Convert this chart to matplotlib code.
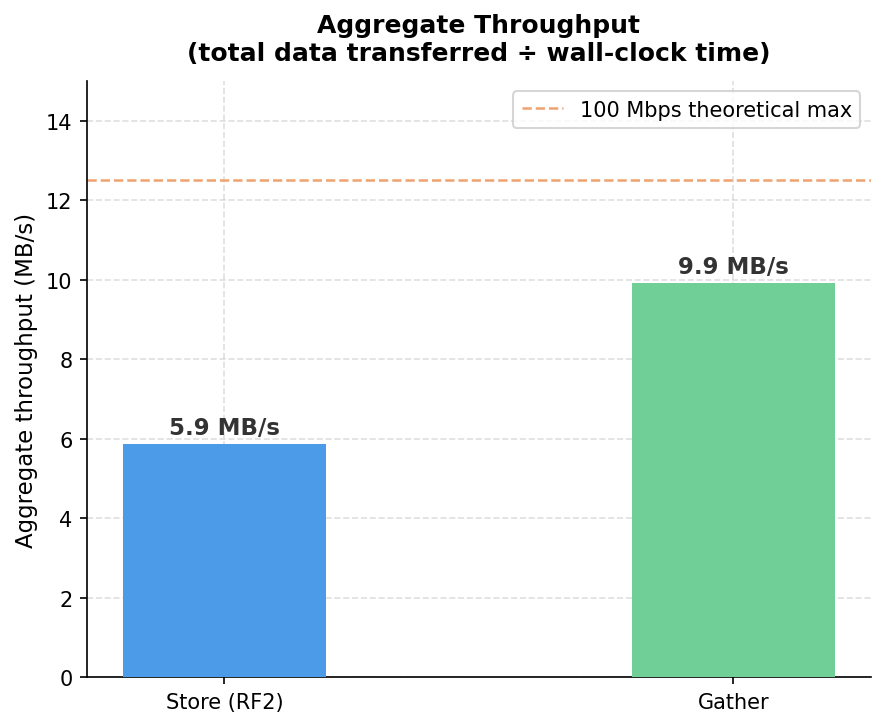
import matplotlib
matplotlib.use("Agg")
import matplotlib.pyplot as plt

categories = ["Store (RF2)", "Gather"]
throughput = [5.87, 9.92]
labels = ["5.9 MB/s", "9.9 MB/s"]
colors = ["#4C9BE8", "#6FCF97"]
theoretical_max = 12.5

fig, ax = plt.subplots(figsize=(5.9, 4.8533), dpi=150)
fig.subplots_adjust(left=0.0983, right=0.984, top=0.8874, bottom=0.0687)
x = list(range(len(categories)))
bars = ax.bar(x, throughput, width=0.4, color=colors, zorder=3)
for xi, v, lab in zip(x, throughput, labels):
    ax.text(xi, v + 0.12, lab, ha="center", va="bottom", fontsize=11,
            fontweight="bold", color="#333333", zorder=4)
ax.axhline(theoretical_max, color="#EFA270", linestyle="--",
           linewidth=1.2, label="100 Mbps theoretical max", zorder=2)
ax.set_xticks(x)
ax.set_xticklabels(categories)
ax.set_ylim(0, 15)
ax.set_ylabel("Aggregate throughput (MB/s)", fontsize=11)
ax.set_title("Aggregate Throughput\n(total data transferred \u00f7 wall-clock time)",
             fontsize=12, fontweight="bold", pad=10)
ax.grid(True, linestyle="--", alpha=0.4, zorder=0)
ax.spines["top"].set_visible(False)
ax.spines["right"].set_visible(False)
ax.legend(loc="upper right", fontsize=10)
fig.savefig("out.png", dpi=150)
